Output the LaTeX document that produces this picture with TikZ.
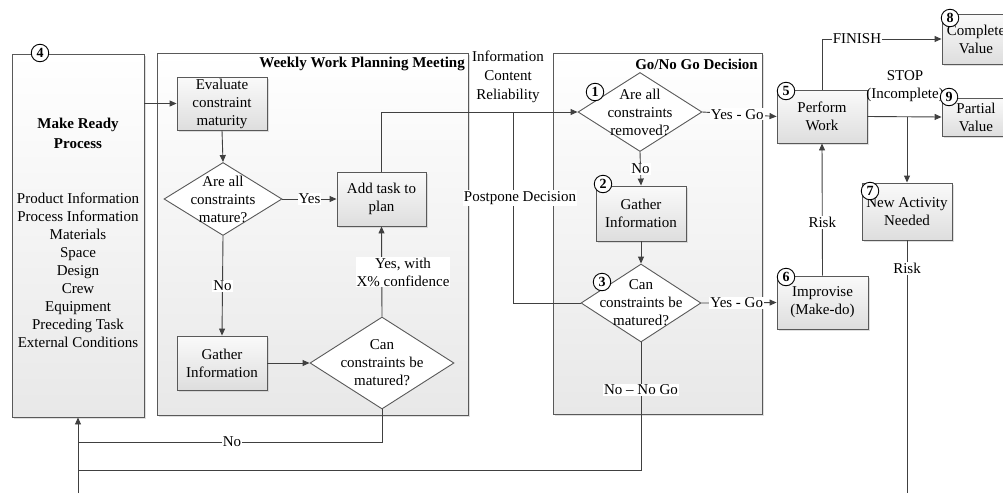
\documentclass[tikz,border=0pt]{standalone}
\usepackage{fontspec}
\setmainfont{Liberation Serif}
\usetikzlibrary{shapes.geometric,shadows,arrows.meta}
\begin{document}
\begin{tikzpicture}[x=1pt,y=-1pt,
  line/.style={draw=black!75, line width=0.9pt},
  arr/.style={line, -{Triangle[length=7pt,width=6pt]}},
  base/.style={font=\fontsize{15}{18}\selectfont, align=center, inner sep=0pt},
  shad/.style={drop shadow={shadow xshift=2pt,shadow yshift=-2pt,fill=black!25}},
  container/.style={base, draw=black!65, line width=0.9pt, top color=white, bottom color=black!9, shad},
  proc/.style={base, draw=black!65, line width=0.9pt, top color=black!2, bottom color=black!13, shad},
  dia/.style={base, diamond, draw=black!65, fill=white, line width=0.9pt},
  num/.style={circle, draw=black, fill=white, line width=0.9pt, minimum size=17.5pt, inner sep=0pt, font=\fontsize{14}{14}\bfseries\selectfont},
  lbl/.style={base, fill=white, inner sep=1pt},
  title/.style={base, font=\fontsize{15}{18}\bfseries\selectfont},
]
\useasboundingbox (0,0) rectangle (1003,493);
\clip (0,0) rectangle (1003,493);

% containers
\node[container, minimum width=132pt, minimum height=363pt] (mr) at (78,235.5) {};
\node[container, minimum width=311pt, minimum height=362pt] (ww) at (312.5,234) {};
\node[container, minimum width=209pt, minimum height=361pt] (gg) at (657.5,233.5) {};

\node[title, font=\fontsize{15}{20}\bfseries\selectfont] (mrt) at (78,133) {Make Ready\\Process};
\node[base] (mrl) at (78,270.5) {Product Information\\Process Information\\Materials\\Space\\Design\\Crew\\Equipment\\Preceding Task\\External Conditions};
\node[title, anchor=east] (wwt) at (465,64) {Weekly Work Planning Meeting};
\node[title, anchor=east] (ggt) at (758,64) {Go/No Go Decision};
\node[base, font=\fontsize{15}{19}\selectfont] (info) at (508,77) {Information\\Content\\Reliability};

% process boxes
\node[proc, minimum width=90pt, minimum height=53pt] (ev) at (222,103.5) {Evaluate\\constraint\\maturity};
\node[proc, minimum width=89pt, minimum height=54pt] (add) at (381.5,199) {Add task to\\plan};
\node[proc, minimum width=90pt, minimum height=54pt] (g1) at (222,363) {Gather\\Information};
\node[proc, minimum width=90pt, minimum height=55pt] (g2) at (641,213.5) {Gather\\Information};
\node[proc, minimum width=90pt, minimum height=53pt] (pw) at (822,116.5) {Perform\\Work};
\node[proc, minimum width=91pt, minimum height=53pt] (imp) at (822.5,302.5) {Improvise\\(Make-do)};
\node[proc, minimum width=90pt, minimum height=57pt] (nv) at (907,211.5) {New Activity\\Needed};
\node[proc, minimum width=68pt, minimum height=50pt] (cv) at (976,39) {Complete\\Value};
\node[proc, minimum width=68pt, minimum height=38pt] (pv) at (976,117) {Partial\\Value};

% diamonds
\node[dia, minimum width=118pt, minimum height=73pt, label={[base]center:{Are all\\constraints\\mature?}}] (d1) at (223,199) {};
\node[dia, minimum width=144pt, minimum height=92pt, label={[base]center:{Can\\constraints be\\matured?}}] (d2) at (382,363) {};
\node[dia, minimum width=124pt, minimum height=79pt, label={[base]center:{Are all\\constraints\\removed?}}] (dA) at (640,112) {};
\node[dia, minimum width=120pt, minimum height=78pt, label={[base]center:{Can\\constraints be\\matured?}}] (dB) at (641,303) {};

% junction coordinates
\coordinate (j0) at (78,493);
\coordinate (j1) at (78,442);
\coordinate (j2) at (78,470);
\coordinate (br) at (513,112);
\coordinate (br2) at (907,116.5);
\coordinate (nvend) at (907,493);

% connectors
\draw[arr] (ev.west -| mr.east) -- (ev.west);
\draw[arr] (ev.south) -- (d1.north);
\draw[arr] (d1.east) -- node[lbl] (lyes) {Yes} (add.west);
\draw[arr] (d1.south) -- node[lbl] (lno1) {No} (g1.north);
\draw[arr] (g1.east) -- (d2.west);
\draw[arr] (d2.north) -- (add.south);
\node[lbl] (lyx) at (403,272) {Yes, with\\X\% confidence};
\draw[line] (d2.south) |- (j1);
\node[lbl] (lno2) at (232,442) {No};
\draw[line] (dB.south) |- (j2);
\node[lbl] (lnogo) at (641,390) {No -- No Go};
\draw[arr] (j0) -- (mr.south);
\draw[arr] (add.north) |- (dA.west);
\draw[line] (br) |- (dB.west);
\node[lbl] (lpp) at (520,198) {Postpone Decision};
\draw[arr] (dA.south) -- node[lbl] (lno3) {No} (g2.north);
\draw[arr] (g2.south) -- (dB.north);
\draw[arr] (dA.east) -- node[lbl, pos=0.47] (lyg1) {Yes - Go} (pw.west);
\draw[arr] (dB.east) -- node[lbl, pos=0.47] (lyg2) {Yes - Go} (imp.west);
\draw[arr] (imp.north) -- node[lbl, pos=0.4] (lrisk1) {Risk} (pw.south);
\draw[arr] (pw.north) |- node[lbl, pos=0.646] (lfin) {FINISH} (cv.west);
\draw[arr] (pw.east) -- (pv.west);
\draw[arr] (br2) -- (nv.north);
\draw[line] (nv.south) -- node[lbl, pos=0.11] (lrisk2) {Risk} (nvend);
\node[base] (lstop) at (905,86) {STOP\\(Incomplete)};

% numbers
\node[num] (n4) at (40,53) {4};
\node[num] (n1) at (595,92) {1};
\node[num] (n2) at (603,184) {2};
\node[num] (n3) at (602,282) {3};
\node[num] (n5) at (786,91) {5};
\node[num] (n6) at (786,277) {6};
\node[num] (n7) at (870,191) {7};
\node[num] (n8) at (950,18) {8};
\node[num] (n9) at (949,97) {9};
\end{tikzpicture}
\end{document}
